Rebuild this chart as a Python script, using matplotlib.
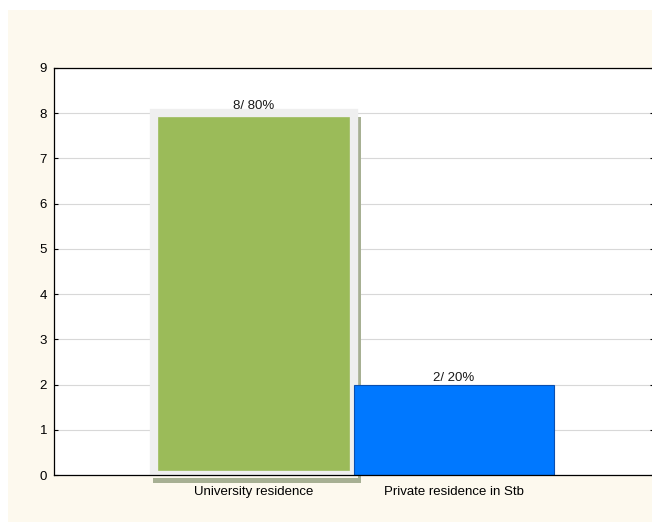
import numpy as np
import matplotlib.pyplot as plt
from matplotlib.patches import Rectangle

plt.rcParams['font.family'] = ['Liberation Sans', 'DejaVu Sans']

categories = ['University residence', 'Private residence in Stb']
counts = [8, 2]
labels = ['8/ 80%', '2/ 20%']
colors = ['#9BBB59', '#0078FF']
edges = ['#EFEFEF', '#0A4FB0']

fig = plt.figure(figsize=(6.52, 5.26), dpi=100, facecolor='white')
# cream panel behind the plot
fig.patches.append(Rectangle((8 / 652, 4 / 526), 1, 1 - 14 / 526, transform=fig.transFigure,
                             facecolor='#FDF9EE', edgecolor='none', zorder=-10))

ax = fig.add_axes([54 / 652, 1 - 475 / 526, 600 / 652, 407 / 526])
ax.set_facecolor('white')

x = np.arange(1, len(categories) + 1)
ax.set_xlim(0, 3)
ax.set_ylim(0, 9)

ppu_x = 200.0   # pixels per x unit
ppu_y = 407 / 9.0

# shadow under the highlighted first bar
v = counts[0]
ax.add_patch(Rectangle((x[0] + 0.5 + 4 / ppu_x, -8 / ppu_y), 3 / ppu_x, v - 4 / ppu_y + 8 / ppu_y,
                       facecolor='#A7B093', edgecolor='none', clip_on=False, zorder=1))
ax.add_patch(Rectangle((x[0] - 0.5 - 1 / ppu_x, -8 / ppu_y), 1 + 8 / ppu_x, 5 / ppu_y,
                       facecolor='#A7B093', edgecolor='none', clip_on=False, zorder=1))

bars = ax.bar(x, counts, width=1.0, color=colors, zorder=2)
bars[0].set_edgecolor(edges[0])
bars[0].set_linewidth(6)
bars[1].set_edgecolor(edges[1])
bars[1].set_linewidth(0.8)

for xi, c, lab in zip(x, counts, labels):
    off = 0.03 if c == counts[0] else 0.02
    ax.text(xi, c + off, lab, ha='center', va='bottom', fontsize=9.5, color='#1a1a1a')

ax.set_yticks(range(0, 10))
ax.set_xticks(x)
ax.set_xticklabels(categories)
ax.yaxis.grid(True, color='#D8D8D8', linewidth=0.8, zorder=0)
ax.set_axisbelow(True)
ax.tick_params(axis='both', direction='in', length=3, width=0.8, labelsize=9.5, colors='black',
               right=True, top=False)
ax.tick_params(axis='y', pad=5)
ax.tick_params(axis='x', pad=8)

for s in ax.spines.values():
    s.set_color('black')
    s.set_linewidth(0.9)

fig.savefig('out.png', dpi=100, facecolor='white')
